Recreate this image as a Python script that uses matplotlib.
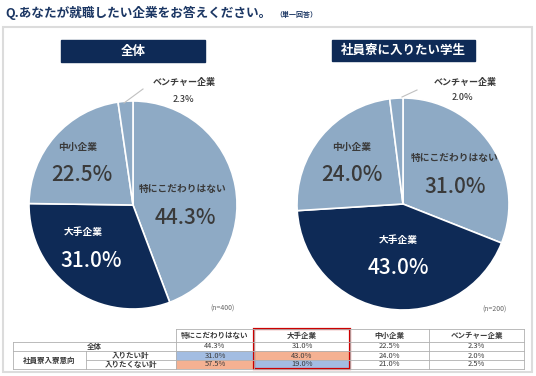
import matplotlib
matplotlib.use("Agg")
import matplotlib.pyplot as plt
from matplotlib.patches import Rectangle

plt.rcParams["font.family"] = ["Noto Sans CJK JP", "DejaVu Sans"]

# data
categories = ["特にこだわりはない", "大手企業", "中小企業", "ベンチャー企業"]
overall = [44.3, 31.0, 22.5, 2.3]
want_dorm = [31.0, 43.0, 24.0, 2.0]
no_dorm = [57.5, 19.0, 21.0, 2.5]
n_overall = 400
n_dorm = 200

title = "Q.あなたが就職したい企業をお答えください。"
note = "（単一回答）"
pie_titles = ["全体", "社員寮に入りたい学生"]
row_labels = ["全体", "入りたい計", "入りたくない計"]
group_label = "社員寮入寮意向"

W, H = 536, 376
NAVY = "#0e2a56"
LIGHT = "#8eaac5"
TXT = "#3a3a3a"
BLUE_CELL = "#a3bde2"
SALMON_CELL = "#f5b192"


def Y(y):
    # pixel row -> data y (origin at bottom)
    return H - y


fig = plt.figure(figsize=(W / 100, H / 100), dpi=100)
ax = fig.add_axes([0, 0, 1, 1])

# outer frame
ax.add_patch(Rectangle((3, Y(372)), 529, 345, fill=False, ec="#dcdcdc", lw=1.5))

ax.text(5, Y(13), title, fontsize=9.1, fontweight="bold", color="#1c3764", va="center", ha="left")
ax.text(275, Y(14), note, fontsize=5, fontweight="bold", color="#1c3764", va="center", ha="left")

colors = [LIGHT, NAVY, LIGHT, LIGHT]


def draw_pie(vals, cx, cy, r, bar, head, n, labels_pos, leader):
    ax.pie(vals, colors=colors, startangle=90, counterclock=False, center=(cx, Y(cy)),
           radius=r, frame=True, wedgeprops=dict(edgecolor="white", linewidth=1.2))
    x0, x1, y0, y1 = bar
    ax.add_patch(Rectangle((x0, Y(y1)), x1 - x0, y1 - y0, color=NAVY))
    ax.text((x0 + x1) / 2, Y((y0 + y1) / 2), head, color="white", fontsize=9,
            fontweight="bold", ha="center", va="center")
    for i, (lx, ly, px, py) in enumerate(labels_pos):
        c = "white" if i == 1 else TXT
        if i == 3:
            ax.text(lx, Y(ly), categories[i], color=TXT, fontsize=6.5, fontweight="bold",
                    ha="center", va="center")
            ax.text(px, Y(py), f"{vals[i]:.1f}%", color=TXT, fontsize=6.5,
                    fontweight=500, ha="center", va="center")
        else:
            ax.text(lx, Y(ly), categories[i], color=c, fontsize=7, fontweight="bold",
                    ha="center", va="center")
            ax.text(px, Y(py), f"{vals[i]:.1f}%", color=c, fontsize=15,
                    fontweight=500, ha="center", va="center")
    (a, b), (c2, d) = leader
    ax.plot([a, c2], [Y(b), Y(d)], color="#c0c0c0", lw=0.8)
    ax.text(cx + r - 2, Y(cy + r), f"(n={n})", color="#666666", fontsize=5,
            ha="right", va="center")


draw_pie(overall, 133, 205, 104, (61, 205, 40, 62), pie_titles[0], n_overall,
         [(183, 189, 185, 218), (83, 232, 91, 261), (78, 147, 82, 175), (184, 83, 183, 100)],
         ((124, 103), (143, 89)))
draw_pie(want_dorm, 403, 204, 106, (332, 475, 40, 61), pie_titles[1], n_dorm,
         [(455, 158, 455, 187), (398, 240, 398, 268), (352, 147, 352, 175), (465, 82, 462, 98)],
         ((402, 97), (417, 90)))

# table
col_x = [176, 254, 350, 429, 524]
row_y = [329, 342, 351, 360, 369]
left_x, split_x = 13, 86
rows = [overall, want_dorm, no_dorm]
fills = {(1, 0): BLUE_CELL, (1, 1): SALMON_CELL, (2, 0): SALMON_CELL, (2, 1): BLUE_CELL}
GRID = "#b0b0b0"

for (ri, ci), fc in fills.items():
    ax.add_patch(Rectangle((col_x[ci], Y(row_y[ri + 2])), col_x[ci + 1] - col_x[ci],
                           row_y[ri + 2] - row_y[ri + 1], color=fc, lw=0))

lw = 0.6
# horizontal lines
ax.plot([col_x[0], col_x[-1]], [Y(row_y[0])] * 2, color=GRID, lw=lw)
ax.plot([left_x, col_x[-1]], [Y(row_y[1])] * 2, color=GRID, lw=lw)
ax.plot([left_x, col_x[-1]], [Y(row_y[2])] * 2, color=GRID, lw=lw)
ax.plot([split_x, col_x[-1]], [Y(row_y[3])] * 2, color=GRID, lw=lw)
ax.plot([left_x, col_x[-1]], [Y(row_y[4])] * 2, color=GRID, lw=lw)
# vertical lines
for x in col_x:
    ax.plot([x, x], [Y(row_y[0]), Y(row_y[4])], color=GRID, lw=lw)
ax.plot([left_x, left_x], [Y(row_y[1]), Y(row_y[4])], color=GRID, lw=lw)
ax.plot([split_x, split_x], [Y(row_y[2]), Y(row_y[4])], color=GRID, lw=lw)

fs = 5.4
for ci, cat in enumerate(categories):
    ax.text((col_x[ci] + col_x[ci + 1]) / 2, Y((row_y[0] + row_y[1]) / 2), cat,
            fontsize=fs, color=TXT, ha="center", va="center", fontweight="bold")
    for ri, vals in enumerate(rows):
        ax.text((col_x[ci] + col_x[ci + 1]) / 2, Y((row_y[ri + 1] + row_y[ri + 2]) / 2),
                f"{vals[ci]:.1f}%", fontsize=fs, color=TXT, ha="center", va="center")

ax.text((left_x + col_x[0]) / 2, Y((row_y[1] + row_y[2]) / 2), row_labels[0], fontsize=fs,
        color=TXT, ha="center", va="center", fontweight="bold")
ax.text((left_x + split_x) / 2, Y((row_y[2] + row_y[4]) / 2), group_label, fontsize=fs,
        color=TXT, ha="center", va="center", fontweight="bold")
for ri in (1, 2):
    ax.text((split_x + col_x[0]) / 2, Y((row_y[ri + 1] + row_y[ri + 2]) / 2), row_labels[ri],
            fontsize=fs, color=TXT, ha="center", va="center", fontweight="bold")

# red highlight around the 大手企業 column
ax.add_patch(Rectangle((col_x[1], Y(row_y[4])), col_x[2] - col_x[1], row_y[4] - row_y[0],
                       fill=False, ec="#cc0000", lw=1.6))

ax.set_xlim(0, W)
ax.set_ylim(0, H)
ax.set_aspect("auto")
ax.axis("off")

fig.savefig("out.png", dpi=100)
